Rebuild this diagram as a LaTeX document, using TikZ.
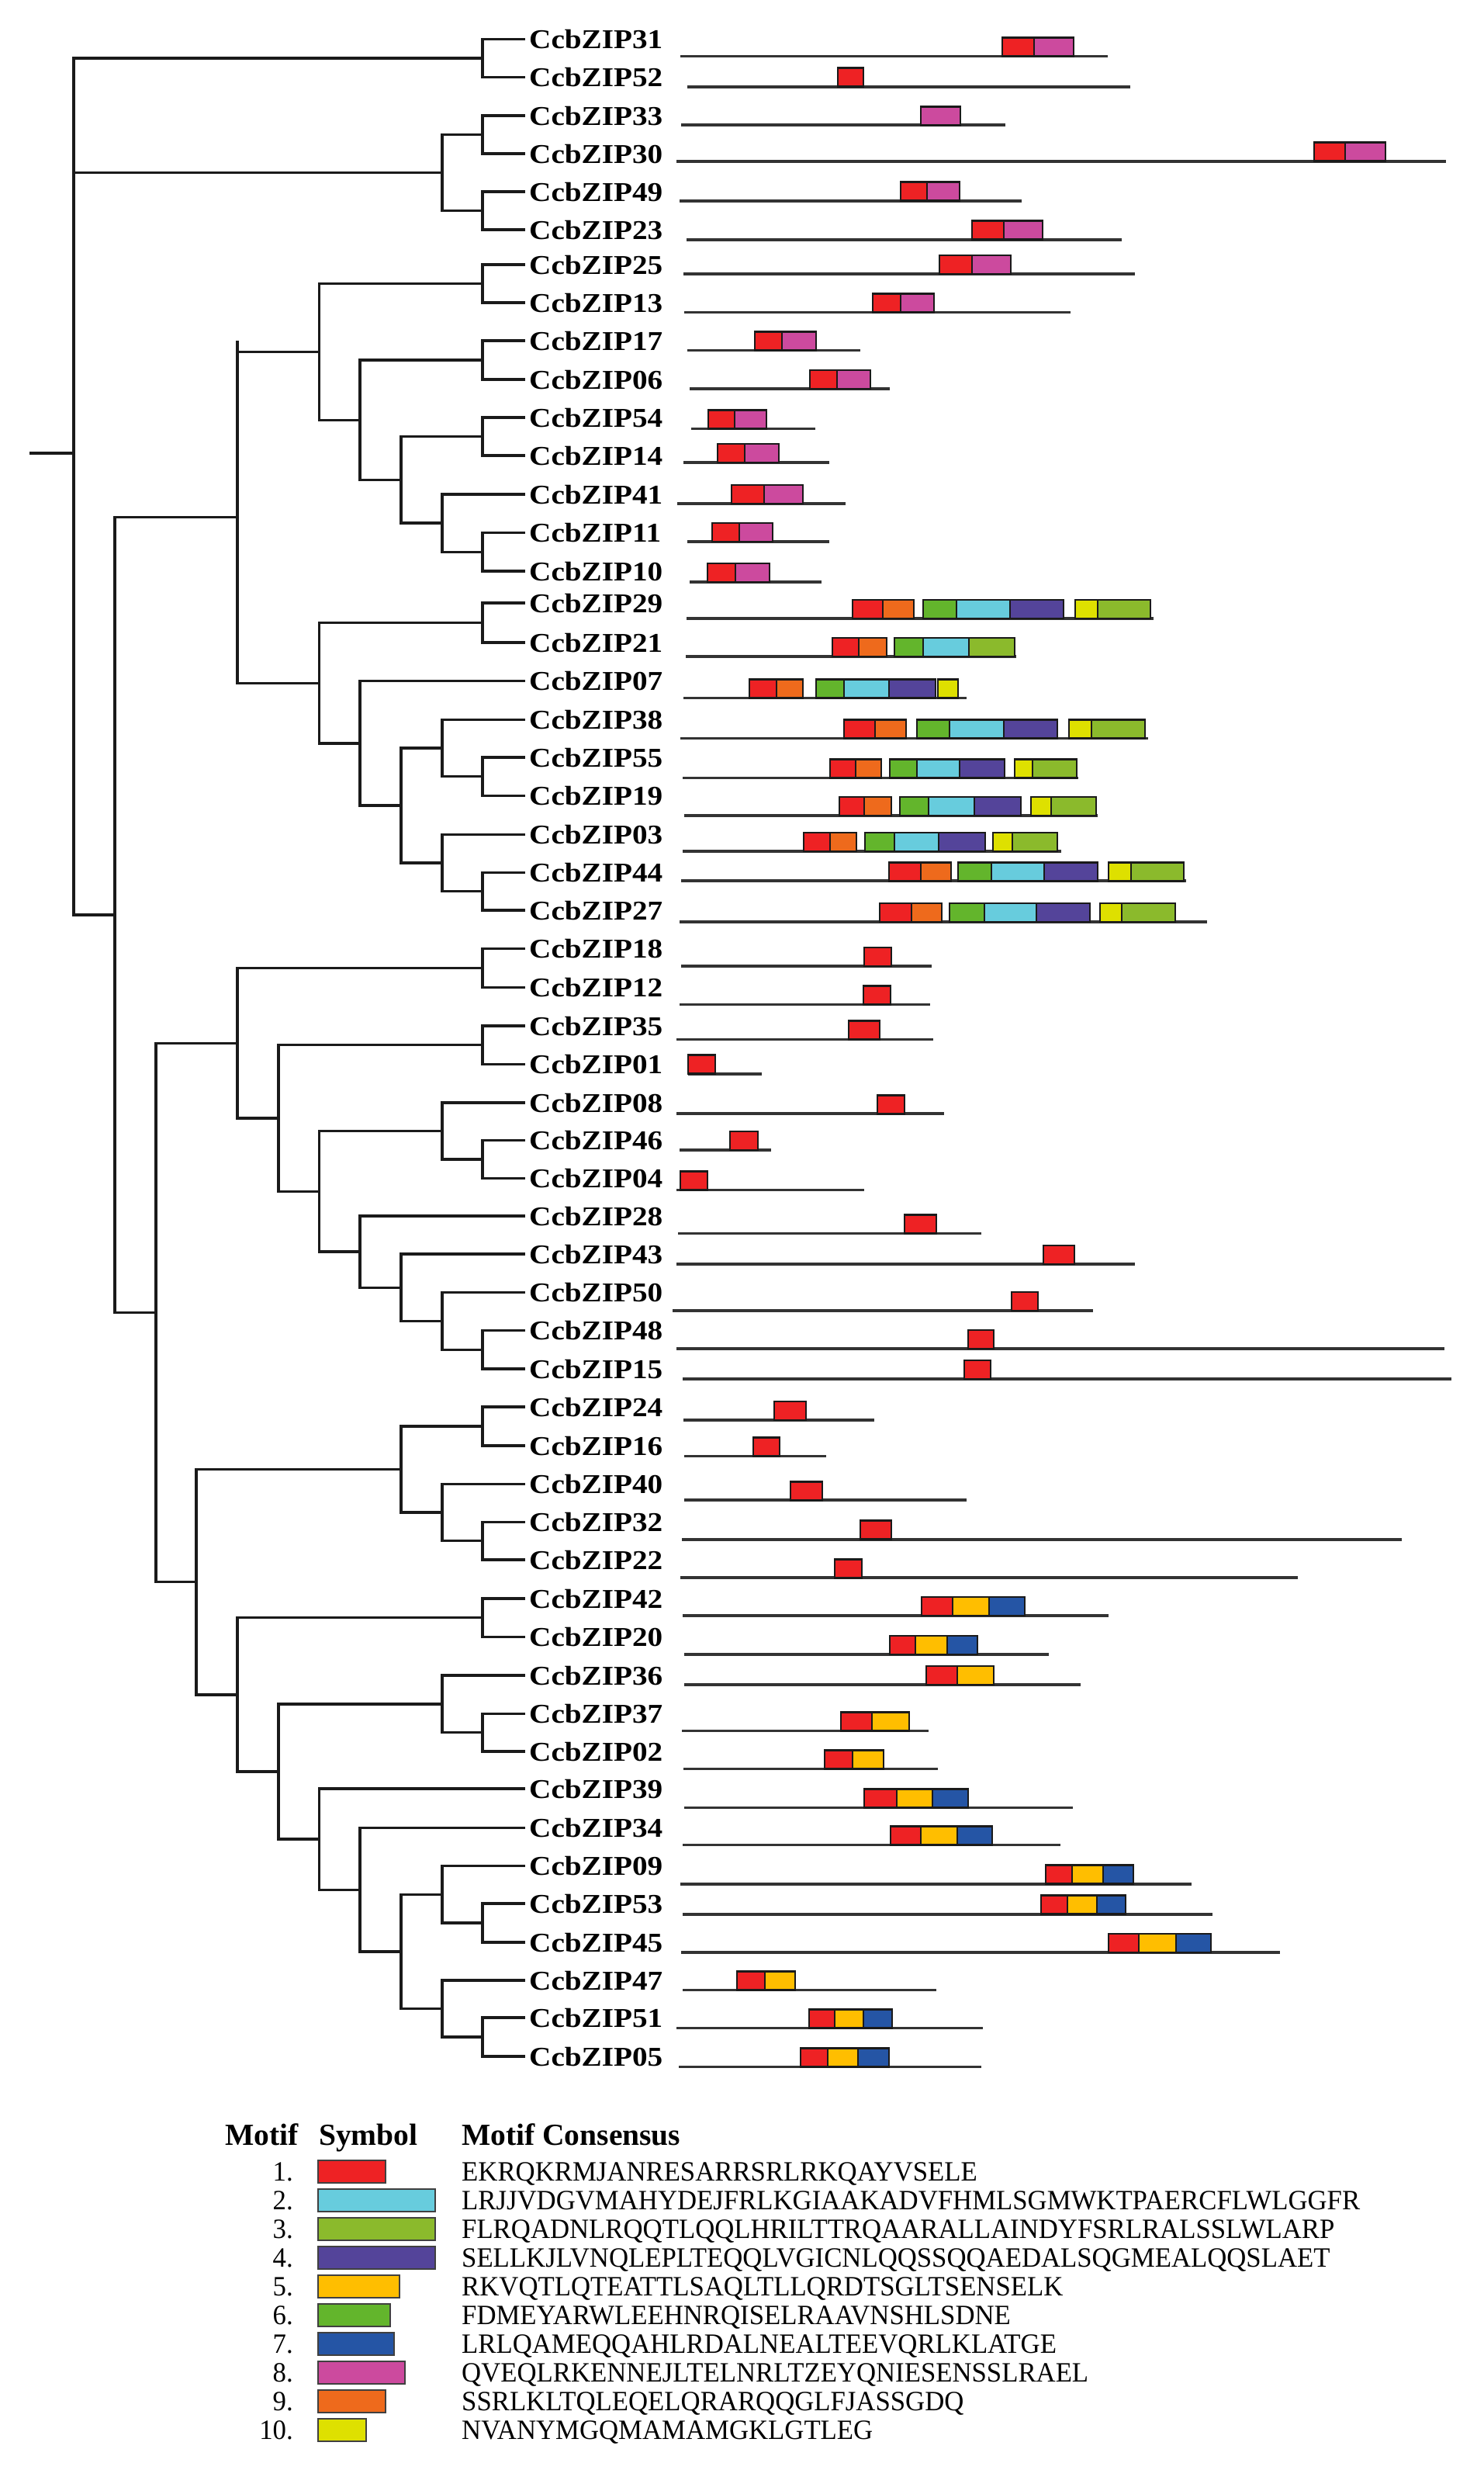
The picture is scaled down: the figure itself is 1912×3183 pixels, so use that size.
\documentclass[tikz,border=0pt]{standalone}
\usepackage{fontspec}
\setmainfont{Liberation Serif}
\newfontfamily\lblfont{Liberation Serif}[FakeStretch=1.12]
\newfontfamily\consfont{Liberation Serif}[FakeStretch=0.965]
\definecolor{mR}{HTML}{EE2224}
\definecolor{mM}{HTML}{CC4A9E}
\definecolor{mO}{HTML}{EE6A1C}
\definecolor{mG}{HTML}{63B52C}
\definecolor{mC}{HTML}{67CCDD}
\definecolor{mP}{HTML}{54449A}
\definecolor{mY}{HTML}{DEE000}
\definecolor{mL}{HTML}{8BBA2C}
\definecolor{mA}{HTML}{FFBE00}
\definecolor{mB}{HTML}{2555A5}
\definecolor{ink}{HTML}{1A1A1A}
\def\lvA{95}\def\lvB{148}\def\lvC{201}\def\lvD{253}\def\lvE{306}\def\lvF{359}
\def\lvG{411.5}\def\lvH{464}\def\lvI{517}\def\lvJ{570}\def\lvK{622}\def\lvT{675}
\newcommand\generow[4]{\draw[gl] (#2,#1) -- (#3,#1);
  \foreach \mcc/\mxa/\mxb in {#4} {\filldraw[mb,fill=\mcc] (\mxa,#1-24) rectangle (\mxb,#1);}}
\newcommand\kids[2]{\foreach \kc in {#2} {\draw[br] (#1) |- (\kc);}}
\begin{document}
\begin{tikzpicture}[x=1pt,y=-1pt,
  br/.style={line width=3.4pt,draw=ink,line cap=rect},
  gl/.style={line width=3.6pt,draw=black!80},
  mb/.style={line width=2.6pt,draw=ink},
  lb/.style={line width=2.6pt,draw=black!75},
  lbl/.style={anchor=west,inner xsep=7pt,inner ysep=0pt,text height=24pt,text depth=0pt,
    font=\lblfont\bfseries\fontsize{35}{35}\selectfont},
  hdr/.style={anchor=base west,inner sep=0pt,font=\bfseries\fontsize{39.5}{39.5}\selectfont},
  num/.style={anchor=base east,inner sep=0pt,font=\consfont\fontsize{36}{36}\selectfont},
  cons/.style={anchor=base west,inner sep=0pt,font=\consfont\fontsize{36}{36}\selectfont}]
\fill[white] (0,0) rectangle (1912,3183);
\useasboundingbox (0,0) rectangle (1912,3183);
% leaf labels
\foreach \n/\y in {31/50.5,52/99.5,33/149,30/198,49/247,23/296,25/341,13/390,17/439,06/489,
  54/538,14/587,41/637,11/686.5,10/736,29/777,21/828,07/877.5,38/927.5,55/976,19/1025.5,
  03/1075.5,44/1124.5,27/1173,18/1222.5,12/1272.5,35/1322,01/1371.5,08/1421,46/1469.5,
  04/1518.5,28/1567,43/1616,50/1665.5,48/1714.5,15/1764,24/1813,16/1863,40/1912.5,
  32/1961.5,22/2010,42/2060,20/2109.5,36/2159,37/2208.5,02/2257,39/2305,34/2355.5,
  09/2404.5,53/2453,45/2503,47/2552,51/2600,05/2650}
  {\node[lbl] (z\n) at (\lvT,\y) {CcbZIP\n};}
% internal nodes
\coordinate (rootL) at (40,584);
\coordinate (root) at (\lvA,584);
\coordinate (nA) at (\lvK,75);
\coordinate (nB) at (\lvJ,222.5);
\coordinate (nB1) at (\lvK,173.5);
\coordinate (nB2) at (\lvK,271.5);
\coordinate (nC) at (\lvB,1179);
\coordinate (nC1) at (\lvE,666.7);
\coordinate (nC1top) at (\lvE,441);
\coordinate (nC1a) at (\lvG,453.3);
\coordinate (n2513) at (\lvK,365.5);
\coordinate (n17x) at (\lvH,541.2);
\coordinate (n1706) at (\lvK,464);
\coordinate (n54x) at (\lvI,618.3);
\coordinate (n5414) at (\lvK,562.5);
\coordinate (n41x) at (\lvJ,674.1);
\coordinate (n1110) at (\lvK,711.25);
\coordinate (nC1b) at (\lvG,880.2);
\coordinate (n2921) at (\lvK,802.5);
\coordinate (n07x) at (\lvH,957.8);
\coordinate (n38y) at (\lvI,1038.1);
\coordinate (n38x) at (\lvJ,964.1);
\coordinate (n5519) at (\lvK,1000.75);
\coordinate (n03x) at (\lvJ,1112.1);
\coordinate (n4427) at (\lvK,1148.75);
\coordinate (nC2) at (\lvC,1691.5);
\coordinate (nC2a) at (\lvE,1344.3);
\coordinate (n1812) at (\lvK,1247.5);
\coordinate (n35x) at (\lvF,1441);
\coordinate (n3501) at (\lvK,1346.75);
\coordinate (n08y) at (\lvG,1535.3);
\coordinate (n08x) at (\lvJ,1457.5);
\coordinate (n4604) at (\lvK,1494);
\coordinate (n28x) at (\lvH,1613.1);
\coordinate (n43x) at (\lvI,1659.2);
\coordinate (n50x) at (\lvJ,1702.4);
\coordinate (n4815) at (\lvK,1739.25);
\coordinate (nC2b) at (\lvD,2038.75);
\coordinate (n24x) at (\lvI,1893.6);
\coordinate (n2416) at (\lvK,1838);
\coordinate (n40x) at (\lvJ,1949.1);
\coordinate (n3222) at (\lvK,1985.75);
\coordinate (n42x) at (\lvE,2183.9);
\coordinate (n4220) at (\lvK,2084.75);
\coordinate (n36y) at (\lvF,2283);
\coordinate (n36x) at (\lvJ,2195.9);
\coordinate (n3702) at (\lvK,2232.75);
\coordinate (n39x) at (\lvG,2370.1);
\coordinate (n34x) at (\lvH,2435.2);
\coordinate (n09y) at (\lvI,2514.9);
\coordinate (n09x) at (\lvJ,2441.25);
\coordinate (n5345) at (\lvK,2478);
\coordinate (n47x) at (\lvJ,2588.5);
\coordinate (n5105) at (\lvK,2625);
% branches
\draw[br] (rootL) -- (root);
\kids{root}{nA,nB,nC}
\kids{nA}{z31.west,z52.west}
\kids{nB}{nB1,nB2}
\kids{nB1}{z33.west,z30.west}
\kids{nB2}{z49.west,z23.west}
\kids{nC}{nC1,nC2}
\draw[br] (nC1) -- (nC1top);
\kids{nC1}{nC1a,nC1b}
\kids{nC1a}{n2513,n17x}
\kids{n2513}{z25.west,z13.west}
\kids{n17x}{n1706,n54x}
\kids{n1706}{z17.west,z06.west}
\kids{n54x}{n5414,n41x}
\kids{n5414}{z54.west,z14.west}
\kids{n41x}{z41.west,n1110}
\kids{n1110}{z11.west,z10.west}
\kids{nC1b}{n2921,n07x}
\kids{n2921}{z29.west,z21.west}
\kids{n07x}{z07.west,n38y}
\kids{n38y}{n38x,n03x}
\kids{n38x}{z38.west,n5519}
\kids{n5519}{z55.west,z19.west}
\kids{n03x}{z03.west,n4427}
\kids{n4427}{z44.west,z27.west}
\kids{nC2}{nC2a,nC2b}
\kids{nC2a}{n1812,n35x}
\kids{n1812}{z18.west,z12.west}
\kids{n35x}{n3501,n08y}
\kids{n3501}{z35.west,z01.west}
\kids{n08y}{n08x,n28x}
\kids{n08x}{z08.west,n4604}
\kids{n4604}{z46.west,z04.west}
\kids{n28x}{z28.west,n43x}
\kids{n43x}{z43.west,n50x}
\kids{n50x}{z50.west,n4815}
\kids{n4815}{z48.west,z15.west}
\kids{nC2b}{n24x,n42x}
\kids{n24x}{n2416,n40x}
\kids{n2416}{z24.west,z16.west}
\kids{n40x}{z40.west,n3222}
\kids{n3222}{z32.west,z22.west}
\kids{n42x}{n4220,n36y}
\kids{n4220}{z42.west,z20.west}
\kids{n36y}{n36x,n39x}
\kids{n36x}{z36.west,n3702}
\kids{n3702}{z37.west,z02.west}
\kids{n39x}{z39.west,n34x}
\kids{n34x}{z34.west,n09y}
\kids{n09y}{n09x,n47x}
\kids{n09x}{z09.west,n5345}
\kids{n5345}{z53.west,z45.west}
\kids{n47x}{z47.west,n5105}
\kids{n5105}{z51.west,z05.west}
% gene structures
\generow{72.4}{877}{1428}{mR/1292/1333,mM/1333/1384}
\generow{111.7}{886}{1457}{mR/1080/1113}
\generow{161.2}{878}{1296}{mM/1187/1238}
\generow{207.7}{872}{1864}{mR/1694/1734,mM/1734/1786}
\generow{258.7}{876}{1317}{mR/1161/1195,mM/1195/1237}
\generow{308.7}{885}{1446}{mR/1253/1294,mM/1294/1344}
\generow{353.1}{881}{1463}{mR/1211/1253,mM/1253/1303}
\generow{402.6}{882}{1380}{mR/1125/1161,mM/1161/1204}
\generow{451.5}{886}{1109}{mR/973/1008,mM/1008/1052}
\generow{501}{889}{1147}{mR/1044/1079,mM/1079/1122}
\generow{552.6}{891}{1051}{mR/913/947,mM/947/988}
\generow{595.9}{881}{1069}{mR/925/960,mM/960/1004}
\generow{649}{873}{1090}{mR/943/985,mM/985/1035}
\generow{698}{886}{1069}{mR/918/953,mM/953/996}
\generow{750}{889}{1059}{mR/912/948,mM/948/992}
\generow{797}{885}{1487}{mR/1099/1138,mO/1138/1178,mG/1190/1233,mC/1233/1302,mP/1302/1371,mY/1386/1415,mL/1415/1483}
\generow{845.9}{884}{1310}{mR/1073/1107,mO/1107/1143,mG/1153/1190,mC/1190/1249,mL/1249/1308}
\generow{899.5}{881}{1246}{mR/966/1001,mO/1001/1035,mG/1052/1088,mC/1088/1146,mP/1146/1206,mY/1209/1235}
\generow{951.5}{877}{1480}{mR/1088/1128,mO/1128/1168,mG/1182/1224,mC/1224/1294,mP/1294/1363,mY/1378/1407,mL/1407/1476}
\generow{1002.6}{880}{1390}{mR/1070/1103,mO/1103/1136,mG/1147/1182,mC/1182/1237,mP/1237/1295,mY/1308/1331,mL/1331/1388}
\generow{1051}{882}{1415}{mR/1082/1114,mO/1114/1149,mG/1160/1197,mC/1197/1256,mP/1256/1316,mY/1329/1355,mL/1355/1413}
\generow{1097}{880}{1368}{mR/1036/1070,mO/1070/1104,mG/1115/1153,mC/1153/1210,mP/1210/1270,mY/1280/1305,mL/1305/1363}
\generow{1135.2}{878}{1529}{mR/1146/1187,mO/1187/1226,mG/1235/1278,mC/1278/1346,mP/1346/1415,mY/1429/1458,mL/1458/1526}
\generow{1187.8}{876}{1556}{mR/1134/1175,mO/1175/1214,mG/1224/1269,mC/1269/1336,mP/1336/1405,mY/1418/1446,mL/1446/1515}
\generow{1244.9}{878}{1201}{mR/1114/1149}
\generow{1294.4}{876}{1199}{mR/1113/1148}
\generow{1339.3}{872}{1203}{mR/1094/1134}
\generow{1383.7}{887}{982}{mR/887/922}
\generow{1435.2}{872}{1217}{mR/1131/1166}
\generow{1482.1}{876}{994}{mR/941/977}
\generow{1533.5}{872}{1114}{mR/877/912}
\generow{1589.3}{874}{1265}{mR/1166/1207}
\generow{1629.1}{872}{1463}{mR/1345/1385}
\generow{1688.8}{867}{1409}{mR/1304/1338}
\generow{1737.8}{872}{1862}{mR/1248/1281}
\generow{1777}{880}{1871}{mR/1243/1277}
\generow{1830.1}{881}{1127}{mR/998/1039}
\generow{1876.5}{882}{1065}{mR/971/1005}
\generow{1933.2}{882}{1246}{mR/1019/1060}
\generow{1983.7}{879}{1807}{mR/1109/1149}
\generow{2033.2}{877}{1673}{mR/1076/1111}
\generow{2082.1}{880}{1429}{mR/1188/1228,mA/1228/1275,mB/1275/1321}
\generow{2132.1}{882}{1352}{mR/1147/1180,mA/1180/1221,mB/1221/1260}
\generow{2170.9}{882}{1393}{mR/1194/1234,mA/1234/1281}
\generow{2230.6}{879}{1197}{mR/1084/1124,mA/1124/1172}
\generow{2279.6}{881}{1209}{mR/1063/1099,mA/1099/1139}
\generow{2329.3}{882}{1383}{mR/1114/1156,mA/1156/1202,mB/1202/1248}
\generow{2377.3}{880}{1367}{mR/1148/1187,mA/1187/1234,mB/1234/1279}
\generow{2427.7}{877}{1536}{mR/1348/1382,mA/1382/1422,mB/1422/1461}
\generow{2466.7}{880}{1563}{mR/1342/1376,mA/1376/1414,mB/1414/1451}
\generow{2516}{878}{1650}{mR/1429/1468,mA/1468/1516,mB/1516/1561}
\generow{2564.3}{880}{1207}{mR/950/986,mA/986/1025}
\generow{2613.3}{872}{1267}{mR/1043/1076,mA/1076/1113,mB/1113/1150}
\generow{2663.3}{875}{1265}{mR/1032/1067,mA/1067/1106,mB/1106/1146}
% legend
\node[hdr] (hM) at (290,2764) {Motif};
\node[hdr] (hS) at (411,2764) {Symbol};
\node[hdr] (hC) at (595,2764) {Motif Consensus};
\foreach \k/\w/\cc/\txt in {
  1/87/mR/EKRQKRMJANRESARRSRLRKQAYVSELE,
  2/151/mC/LRJJVDGVMAHYDEJFRLKGIAAKADVFHMLSGMWKTPAERCFLWLGGFR,
  3/151/mL/FLRQADNLRQQTLQQLHRILTTRQAARALLAINDYFSRLRALSSLWLARP,
  4/151/mP/SELLKJLVNQLEPLTEQQLVGICNLQQSSQQAEDALSQGMEALQQSLAET,
  5/105/mA/RKVQTLQTEATTLSAQLTLLQRDTSGLTSENSELK,
  6/93/mG/FDMEYARWLEEHNRQISELRAAVNSHLSDNE,
  7/98/mB/LRLQAMEQQAHLRDALNEALTEEVQRLKLATGE,
  8/112/mM/QVEQLRKENNEJLTELNRLTZEYQNIESENSSLRAEL,
  9/87/mO/SSRLKLTQLEQELQRARQQGLFJASSGDQ,
  10/62/mY/NVANYMGQMAMAMGKLGTLEG}
{
  \pgfmathsetmacro\yc{2798.3+37*(\k-1)}
  \node[num] (num\k) at (378,\yc+12) {\k.};
  \filldraw[lb,fill=\cc] (410,\yc-14.5) rectangle (410+\w,\yc+14.5);
  \node[cons] (cons\k) at (595,\yc+12) {\txt};
}
\end{tikzpicture}
\end{document}
